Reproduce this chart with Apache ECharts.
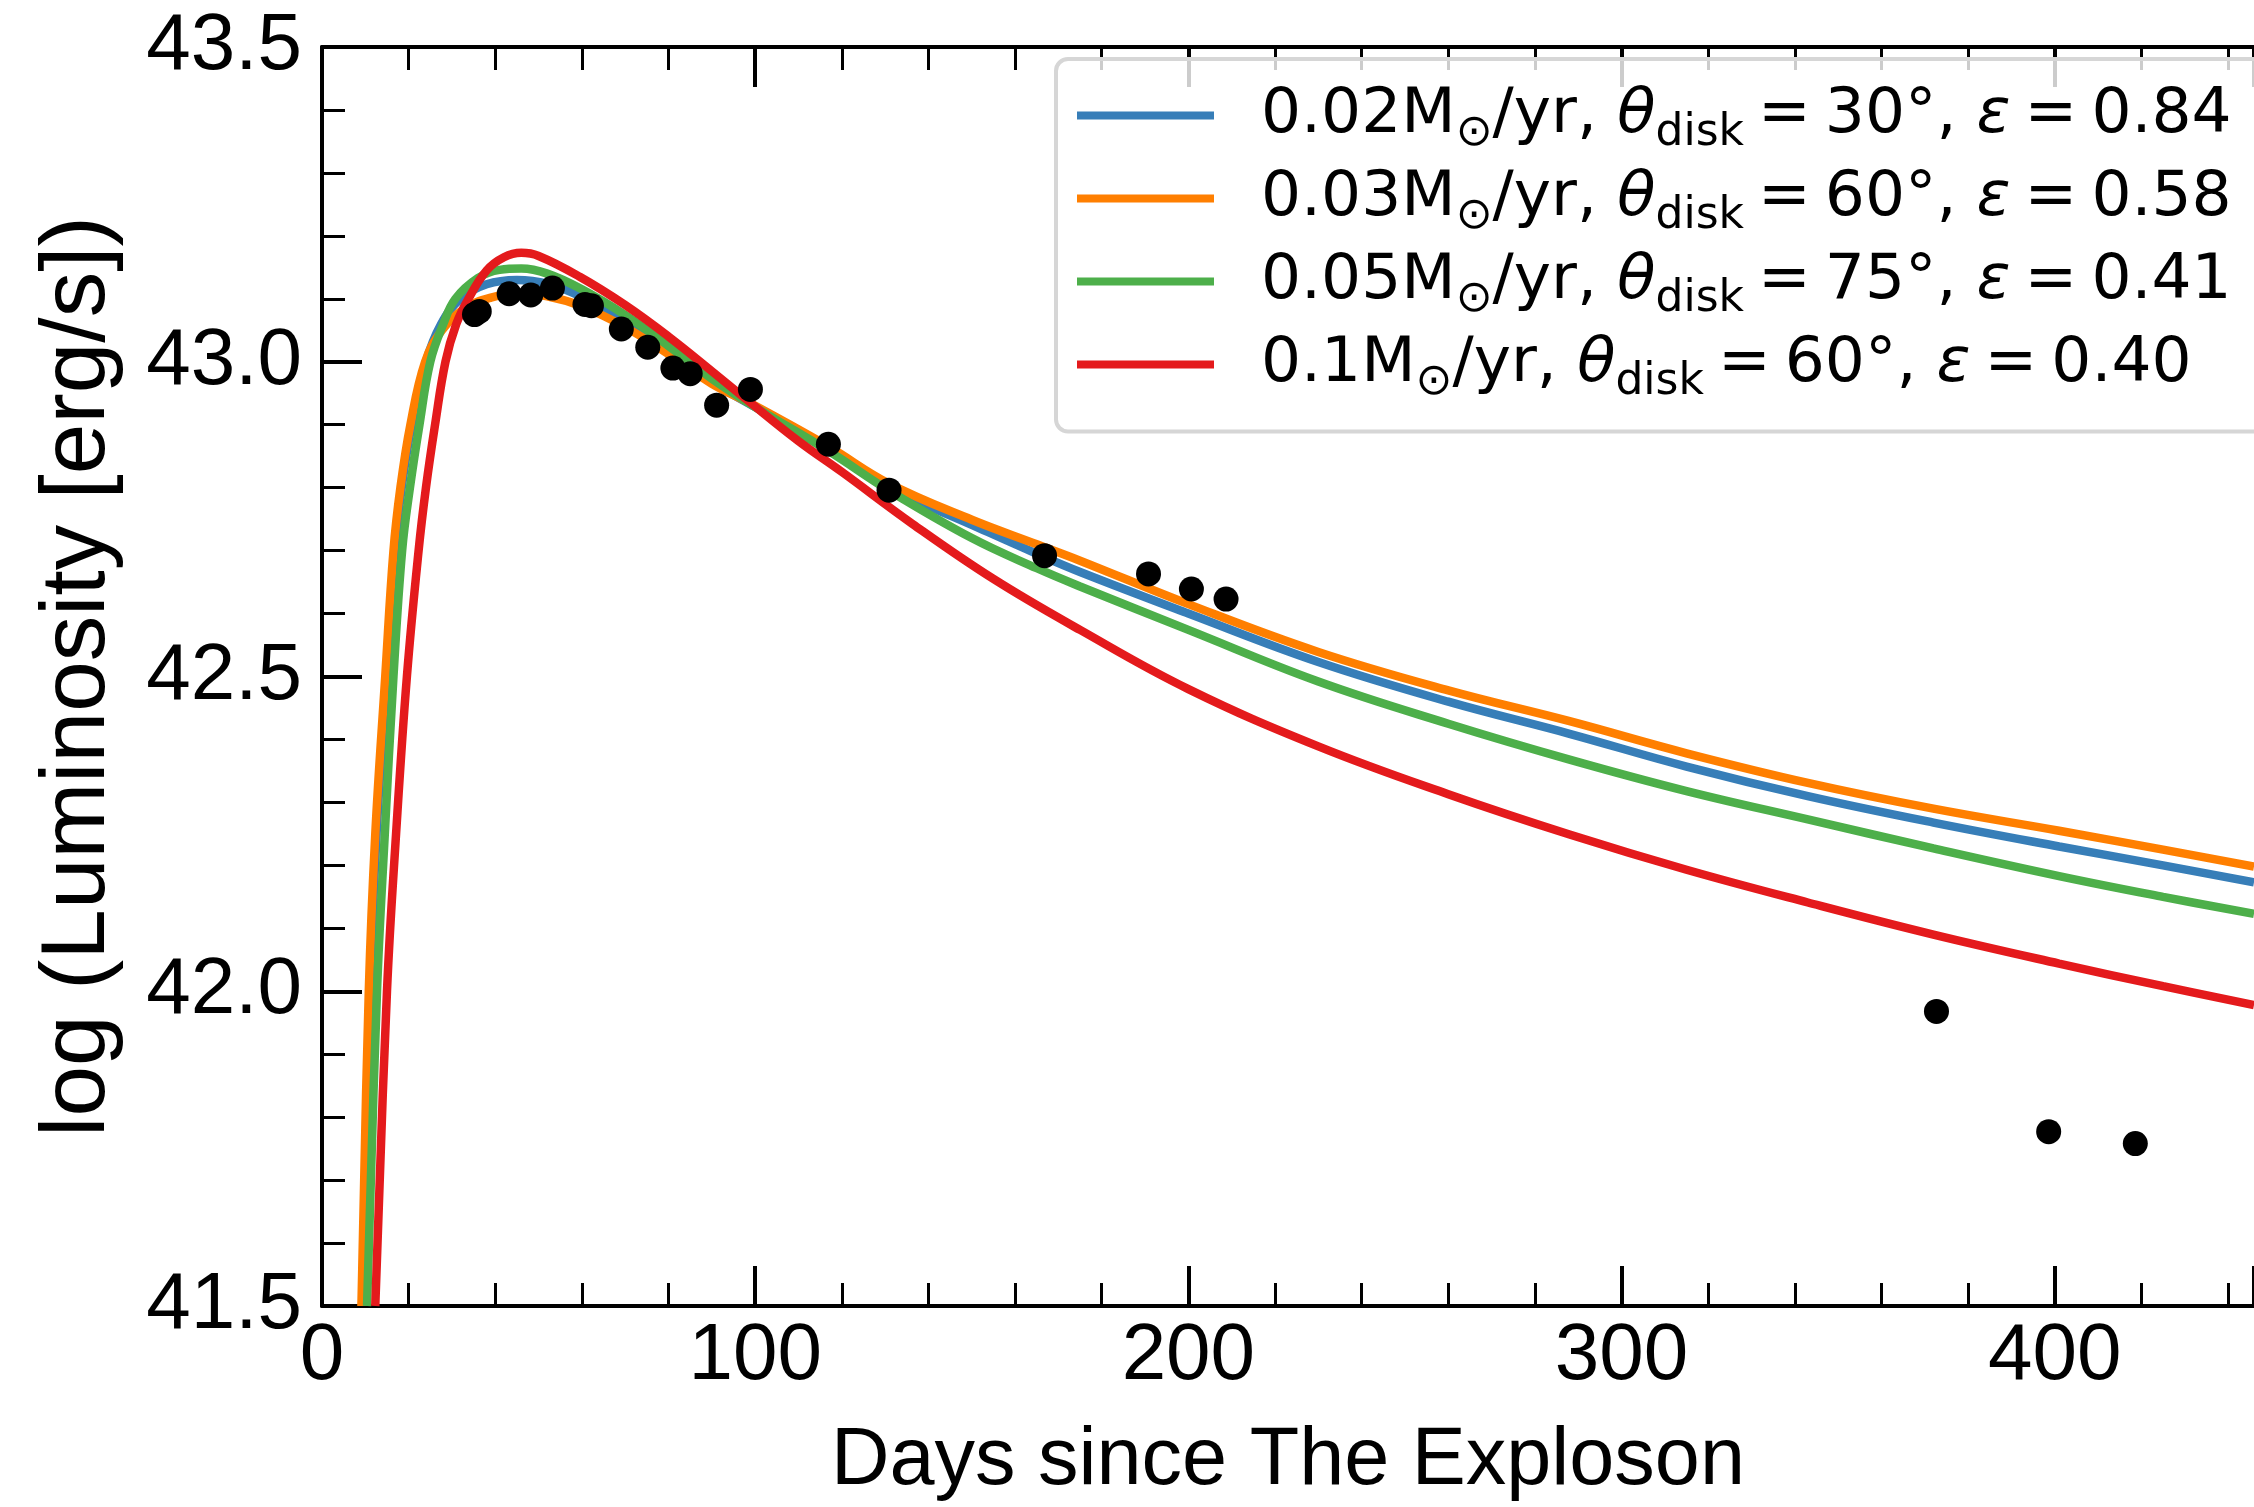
<!DOCTYPE html>
<html>
<head>
<meta charset="utf-8">
<script src="https://cdn.jsdelivr.net/npm/echarts@6/dist/echarts.min.js"></script>
<style>
  html, body { margin: 0; padding: 0; background: #fff; }
  #chart { width: 2254px; height: 1507px; }
</style>
</head>
<body>
<div id="chart"></div>
<script>
// observed bolometric light curve
var obsDays = [35.2, 36.3, 43.2, 48.2, 53.2, 60.7, 62.2, 69.1, 75.2, 81.0, 85.0, 91.1, 98.9,
  116.9, 130.9, 166.8, 190.8, 200.7, 208.7, 372.7, 398.6, 418.6];
var obsLogL = [43.075, 43.080, 43.108, 43.106, 43.117, 43.091, 43.089, 43.052, 43.023, 42.990, 42.981, 42.931, 42.956,
  42.869, 42.796, 42.692, 42.663, 42.639, 42.623, 41.968, 41.777, 41.758];

// model curves
var blueDays = [9.4, 11.1, 12.6, 14.9, 16.8, 18.4, 20.7, 24.0, 27.5, 32, 38, 45, 52, 60, 70, 80, 90, 100,
  117, 131, 150, 165, 175, 200, 230, 260, 288, 315, 343, 372, 401, 425, 446];
var blueLogL = [41.5, 42.0, 42.25, 42.5, 42.7, 42.8, 42.9, 43.0, 43.06, 43.1, 43.123, 43.13, 43.124, 43.103, 43.066, 43.018, 42.968, 42.928,
  42.862, 42.8, 42.741, 42.695, 42.666, 42.6, 42.523, 42.46, 42.409, 42.357, 42.31, 42.268, 42.23, 42.2, 42.173];

var orangeDays = [9.1, 10.8, 12.3, 14.6, 16.5, 18.1, 20.4, 23.8, 27.7, 33, 39, 45, 52, 60, 70, 80, 90, 100,
  117, 131, 150, 165, 175, 200, 230, 260, 288, 315, 343, 372, 401, 425, 446];
var orangeLogL = [41.5, 42.0, 42.25, 42.5, 42.7, 42.8, 42.9, 43.0, 43.05, 43.085, 43.102, 43.108, 43.104, 43.088, 43.055, 43.012, 42.965, 42.93,
  42.865, 42.806, 42.749, 42.71, 42.684, 42.615, 42.539, 42.478, 42.429, 42.378, 42.331, 42.29, 42.255, 42.225, 42.198];

var greenDays = [10.4, 12.7, 14.5, 16.5, 18.5, 20.3, 22.5, 25, 28, 30.8, 36, 41, 46, 52, 60, 70, 80, 90, 100,
  117, 131, 150, 165, 175, 200, 230, 260, 288, 315, 343, 372, 401, 425, 446];
var greenLogL = [41.5, 42.0, 42.25, 42.5, 42.7, 42.8, 42.9, 43.0, 43.06, 43.1, 43.133, 43.146, 43.148, 43.14, 43.115, 43.074, 43.025, 42.973, 42.928,
  42.858, 42.795, 42.72, 42.672, 42.643, 42.574, 42.492, 42.425, 42.368, 42.318, 42.273, 42.227, 42.183, 42.15, 42.123];

var redDays = [12.3, 15.0, 17.1, 19.6, 22.3, 24, 26.1, 28.5, 31, 33.8, 38, 42, 46, 50, 59.5, 70, 80, 90, 98,
  110, 120, 136.4, 155, 175, 200, 230, 260, 288, 315, 343, 372, 401, 425, 446];
var redLogL = [41.5, 42.0, 42.25, 42.5, 42.7, 42.8, 42.9, 43.0, 43.06, 43.1, 43.145, 43.166, 43.173, 43.168, 43.135, 43.09, 43.04, 42.985, 42.94,
  42.874, 42.825, 42.742, 42.655, 42.574, 42.48, 42.389, 42.313, 42.249, 42.193, 42.141, 42.09, 42.044, 42.008, 41.978];

// legend parameters
var massLoss = ['0.02', '0.03', '0.05', '0.1'];
var thetaDisk = ['30', '60', '75', '60'];
var epsilon = ['0.84', '0.58', '0.41', '0.40'];
var colors = ['#377eb8', '#ff7f00', '#4daf4a', '#e41a1c'];

var xTicks = { min: 0, max: 446, interval: 100 };
var yTicks = { min: 41.5, max: 43.5, interval: 0.5 };

function zip(xs, ys) {
  return xs.map(function (x, i) { return [x, ys[i]]; });
}

var modelData = [
  zip(blueDays, blueLogL),
  zip(orangeDays, orangeLogL),
  zip(greenDays, greenLogL),
  zip(redDays, redLogL)
];

var names = massLoss.map(function (m, i) {
  return m + 'M⊙/yr, θdisk = ' + thetaDisk[i] + '°, ε = ' + epsilon[i];
});
var richNames = {};
massLoss.forEach(function (m, i) {
  richNames[names[i]] = '{first|' + m + 'M}{sub|⊙}{m|/yr, }{it|θ}{sub|disk}{eq|=}{m|' + thetaDisk[i] +
    '°, }{it|ε}{eq|=}{m|' + epsilon[i] + '}';
});

var axisFont = 'Liberation Sans';
var legendFont = 'DejaVu Sans';
var legendSize = 63;

var chart = echarts.init(document.getElementById('chart'), null, { renderer: 'canvas' });

var spine = { lineStyle: { color: '#000', width: 4 } };
var majorTick = { inside: true, length: 40, lineStyle: { color: '#000', width: 4 } };
var minorTick = { show: true, splitNumber: 5, length: 23, lineStyle: { color: '#000', width: 3 } };

var series = modelData.map(function (d, i) {
  return {
    name: names[i],
    type: 'line',
    data: d,
    showSymbol: false,
    smooth: 0.4,
    lineStyle: { color: colors[i], width: 8.5 },
    itemStyle: { color: colors[i] },
    z: 2 + i * 0.1
  };
});
series.push({
  name: 'data',
  type: 'scatter',
  data: zip(obsDays, obsLogL),
  symbol: 'circle',
  symbolSize: 25,
  itemStyle: { color: '#000', opacity: 1 },
  z: 5
});

// main text centred on the legend line, subscripts dropped to the bottom of the row
var mainText = { fontFamily: legendFont, fontSize: legendSize, color: '#000', lineHeight: 80, verticalAlign: 'middle' };

var option = {
  backgroundColor: '#ffffff',
  animation: false,
  grid: { left: 322, top: 47, right: 0, bottom: 196 },
  legend: {
    data: names,
    orient: 'vertical',
    left: 1056,
    top: 59,
    padding: [25, 45, 27, 21],
    itemGap: 11.5,
    itemWidth: 137,
    itemHeight: 8,
    icon: 'rect',
    backgroundColor: 'rgba(255,255,255,0.8)',
    borderColor: '#d6d6d6',
    borderWidth: 4,
    borderRadius: 12,
    formatter: function (name) { return richNames[name]; },
    textStyle: {
      color: '#000',
      fontFamily: legendFont,
      fontSize: legendSize,
      rich: {
        first: Object.assign({}, mainText, { padding: [0, 0, 0, 42] }),
        m: mainText,
        eq: Object.assign({}, mainText, { padding: [0, 14, 0, 14] }),
        it: Object.assign({}, mainText, { fontStyle: 'italic' }),
        sub: { fontFamily: legendFont, fontSize: 44, color: '#000', lineHeight: 50, verticalAlign: 'bottom' }
      }
    }
  },
  xAxis: [{
    type: 'value',
    position: 'bottom',
    min: xTicks.min, max: xTicks.max, interval: xTicks.interval,
    axisLine: spine,
    axisTick: majorTick,
    minorTick: minorTick,
    splitLine: { show: false },
    axisLabel: { fontFamily: axisFont, fontSize: 80, color: '#000', margin: 11, showMaxLabel: false },
    name: 'Days since The Exploson',
    nameLocation: 'middle',
    nameGap: 115,
    nameTextStyle: { fontFamily: axisFont, fontSize: 81, color: '#000' }
  }, {
    type: 'value',
    position: 'top',
    min: xTicks.min, max: xTicks.max, interval: xTicks.interval,
    axisLine: spine,
    axisTick: majorTick,
    minorTick: minorTick,
    splitLine: { show: false },
    axisLabel: { show: false }
  }],
  yAxis: [{
    type: 'value',
    position: 'left',
    min: yTicks.min, max: yTicks.max, interval: yTicks.interval,
    axisLine: spine,
    axisTick: majorTick,
    minorTick: minorTick,
    splitLine: { show: false },
    axisLabel: {
      fontFamily: axisFont, fontSize: 80, color: '#000', margin: 20,
      formatter: function (v) { return v.toFixed(1); }
    },
    name: 'log (Luminosity [erg/s])',
    nameLocation: 'middle',
    nameGap: 198,
    nameTextStyle: { fontFamily: axisFont, fontSize: 91, color: '#000' }
  }],
  series: series
};

chart.setOption(option);
</script>
</body>
</html>
